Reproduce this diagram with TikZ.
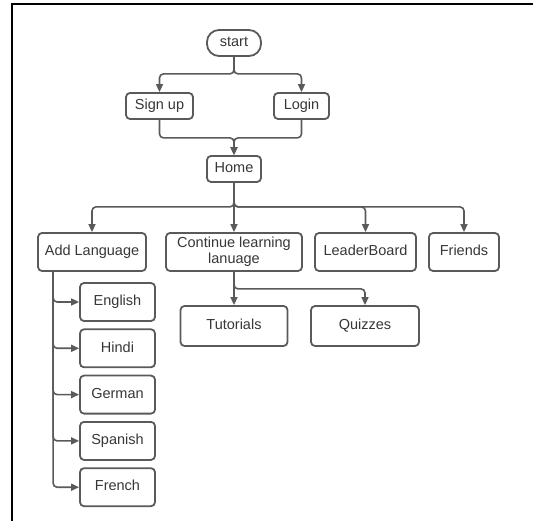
\documentclass[tikz,border=0pt]{standalone}
\usepackage{fontspec}
\setmainfont{Liberation Sans}
\usetikzlibrary{arrows.meta,positioning,calc}
\definecolor{linegray}{RGB}{90,90,90}
\definecolor{textgray}{RGB}{55,55,55}

\begin{document}
\begin{tikzpicture}[x=1pt, y=-1pt,
    basebox/.style={rectangle, draw=linegray, line width=1.8pt, fill=white, rounded corners=4pt, text=textgray, align=center, inner sep=2pt, font=\fontsize{14.5}{16.5}\selectfont},
    box/.style={basebox, text height=10.5pt, text depth=3pt},
    pill/.style={box, rounded corners=12pt},
    lang/.style={box, minimum width=75pt, minimum height=38pt},
    arr/.style={-{Triangle[width=7pt,length=8pt]}, draw=linegray, line width=1.6pt, rounded corners=4pt}]
    \useasboundingbox (0,0) rectangle (533,521);
    % frame
    \draw[line width=2pt] (12,521) -- (12,3.7) -- (533,3.7);

    \node[pill, minimum width=54pt, minimum height=26pt] (start) at (234,43) {start};
    \node[box, minimum width=67pt, minimum height=26pt] (signup) at (159.5,106) {Sign up};
    \node[box, minimum width=55pt, minimum height=26pt] (login) at (301.5,106) {Login};
    \node[box, minimum width=54pt, minimum height=26pt] (home) at (234,169) {Home};

    \node[box, minimum width=108pt, minimum height=38pt] (addlang) at (92,252) {Add Language};
    \node[basebox, minimum width=136pt, minimum height=38pt] (continue) at (234,252) {Continue learning\\lanuage};
    \node[box, minimum width=101pt, minimum height=38pt] (leader) at (365.5,252) {LeaderBoard};
    \node[box, minimum width=70pt, minimum height=38pt] (friends) at (464,252) {Friends};

    \node[box, minimum width=107pt, minimum height=40pt] (tutorials) at (234,326) {Tutorials};
    \node[box, minimum width=108pt, minimum height=40pt] (quizzes) at (365,326) {Quizzes};

    \node[lang] (english) at (117.5,302) {English};
    \node[lang, below=6.5pt of english] (hindi) {Hindi};
    \node[lang, below=6.5pt of hindi] (german) {German};
    \node[lang, below=6.5pt of german] (spanish) {Spanish};
    \node[lang, below=6.5pt of spanish] (french) {French};

    % start to sign up / login
    \draw[arr] (start.south) -- ++(0,17) -| (signup.north);
    \draw[arr] (start.south) -- ++(0,17) -| (login.north);
    \draw[arr] (signup.south) -- ++(0,18) -| (home.north);
    \draw[arr] (login.south) -- ++(0,18) -| (home.north);

    % home to main options
    \draw[arr] (home.south) -- (continue.north);
    \foreach \n in {addlang, leader, friends}
        \draw[arr] (home.south) -- ++(0,24) -| (\n.north);

    % continue learning
    \draw[arr] (continue.south) -- (tutorials.north);
    \draw[arr] (continue.south) -- ++(0,17) -| (quizzes.north);

    % languages
    \foreach \n in {english, hindi, german, spanish, french}
        \draw[arr] ([xshift=16pt]addlang.south west) |- (\n.west);
\end{tikzpicture}
\end{document}
